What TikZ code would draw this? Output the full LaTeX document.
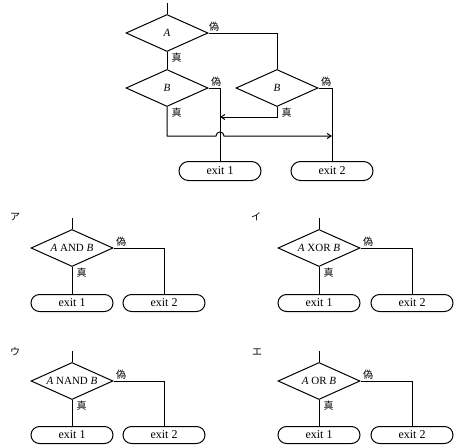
\documentclass[tikz,border=0pt]{standalone}
\usepackage{amsmath}
\usepackage{fontspec}
\usepackage{tikz}
\usetikzlibrary{positioning, arrows.meta, calc, shapes.geometric, shapes.misc}
\setmainfont{Liberation Serif}
\newfontfamily\jp{Noto Sans CJK JP}

\begin{document}
\begin{tikzpicture}[
      x=1pt, y=-1pt,
      line width=1pt,
      decision/.style={
        draw,
        diamond,
        inner sep=0pt,
        aspect=2.2,
        minimum width=82pt,
        minimum height=37pt,
        font=\fontsize{11}{12}\selectfont
      },
      exitbox/.style={
        draw,
        rounded rectangle,
        minimum width=82pt,
        minimum height=17pt,
        inner sep=0pt,
        font=\fontsize{12}{13}\selectfont
      },
      lbl/.style={
        font=\jp\fontsize{10}{10}\selectfont,
        inner sep=1pt
      },
      arrow/.style={
        -{Straight Barb[length=4pt,width=5pt]}
      }
    ]
    \useasboundingbox (0,0) rectangle (456,447);

    % upper flowchart
    \coordinate (top) at (167,3);
    \node[decision] (condA) at (167,33) {\textit{A}};
    \node[decision] (condB1) at (167,88) {\textit{B}};
    \node[decision] (condB2) at (277,88) {\textit{B}};
    \node[exitbox, minimum height=19pt] (exitA1) at (220,171) {exit 1};
    \node[exitbox, minimum height=19pt] (exitA2) at (332,171) {exit 2};
    \coordinate (jmp) at (167,136);
    \coordinate (back) at (277,117);

    \draw (top) -- (condA.north);
    \draw (condA.east) node[lbl, anchor=south west, xshift=-1pt] {偽} -| (condB2.north);
    \draw (condA.south) node[lbl, anchor=north west, xshift=3pt] {真} -- (condB1.north);
    \draw (condB1.east) node[lbl, anchor=south west, xshift=1pt] {偽} -| (exitA1.north);
    \draw (condB2.east) node[lbl, anchor=south west, xshift=1pt] {偽} -| (exitA2.north);
    \draw[arrow] (condB2.south) node[lbl, anchor=north west, xshift=3pt] {真} -- (back) -- (back -| exitA1);
    \draw[arrow] (condB1.south) node[lbl, anchor=north west, xshift=3pt] {真} -- (jmp)
      -- ($(jmp -| exitA1)+(-4,0)$) arc[start angle=180, end angle=0, radius=4pt]
      -- (jmp -| exitA2);

    % ア
    \node[lbl] (optA) at (15,217) {ア};
    \coordinate (topA) at (72,218);
    \node[decision] (condAnd) at (72,248) {\textit{A} AND \textit{B}};
    \node[exitbox] (andEx1) at (72,303) {exit 1};
    \node[exitbox] (andEx2) at (164,303) {exit 2};
    \draw (topA) -- (condAnd.north);
    \draw (condAnd.east) node[lbl, anchor=south west, xshift=1pt] {偽} -| (andEx2.north);
    \draw (condAnd.south) node[lbl, anchor=north west, xshift=3pt] {真} -- (andEx1.north);

    % イ
    \node[lbl] (optB) at (256,217) {イ};
    \coordinate (topB) at (319,218);
    \node[decision] (condXor) at (319,248) {\textit{A} XOR \textit{B}};
    \node[exitbox] (xorEx1) at (319,303) {exit 1};
    \node[exitbox] (xorEx2) at (412,303) {exit 2};
    \draw (topB) -- (condXor.north);
    \draw (condXor.east) node[lbl, anchor=south west, xshift=1pt] {偽} -| (xorEx2.north);
    \draw (condXor.south) node[lbl, anchor=north west, xshift=3pt] {真} -- (xorEx1.north);

    % ウ
    \node[lbl] (optC) at (15,352) {ウ};
    \coordinate (topC) at (72,351);
    \node[decision] (condNand) at (72,381) {\textit{A} NAND \textit{B}};
    \node[exitbox] (nandEx1) at (72,435) {exit 1};
    \node[exitbox] (nandEx2) at (164,435) {exit 2};
    \draw (topC) -- (condNand.north);
    \draw (condNand.east) node[lbl, anchor=south west, xshift=1pt] {偽} -| (nandEx2.north);
    \draw (condNand.south) node[lbl, anchor=north west, xshift=3pt] {真} -- (nandEx1.north);

    % エ
    \node[lbl] (optD) at (257,352) {エ};
    \coordinate (topD) at (319,351);
    \node[decision] (condOr) at (319,381) {\textit{A} OR \textit{B}};
    \node[exitbox] (orEx1) at (319,435) {exit 1};
    \node[exitbox] (orEx2) at (412,435) {exit 2};
    \draw (topD) -- (condOr.north);
    \draw (condOr.east) node[lbl, anchor=south west, xshift=1pt] {偽} -| (orEx2.north);
    \draw (condOr.south) node[lbl, anchor=north west, xshift=3pt] {真} -- (orEx1.north);

    \end{tikzpicture}
\end{document}
